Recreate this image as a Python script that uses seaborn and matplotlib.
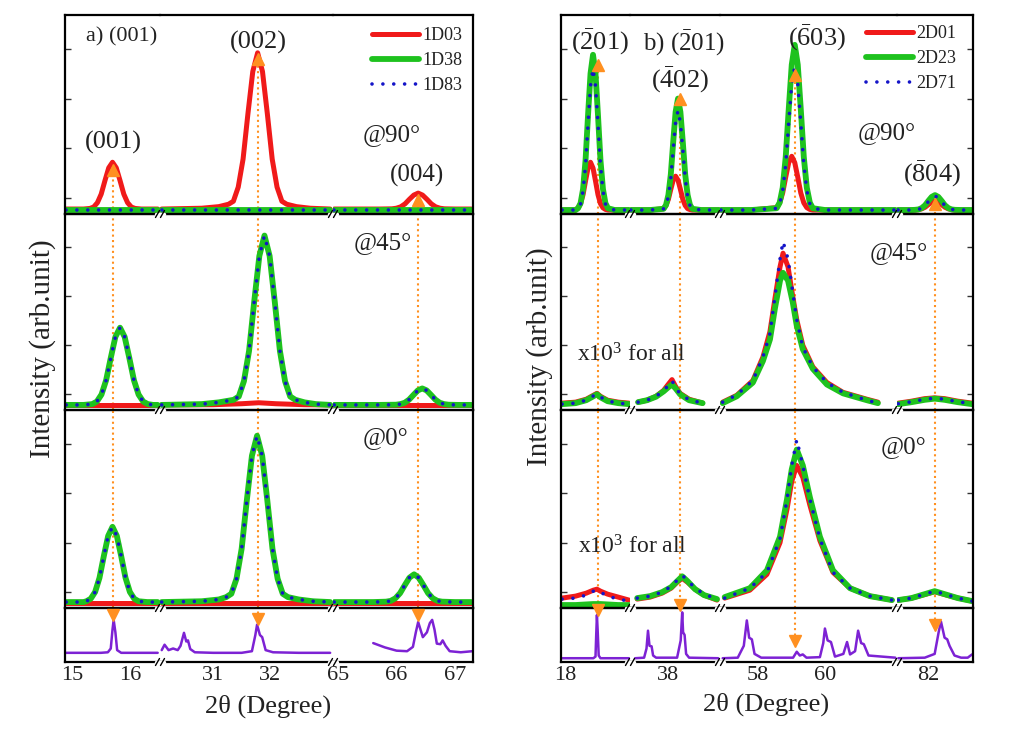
import matplotlib
matplotlib.use("Agg")
import matplotlib.pyplot as plt
from matplotlib.lines import Line2D
import seaborn as sns

# ---------------- data ----------------
# intensities are in units of the row height (0 = row bottom, 1 = row top)

# panel a) : 1D samples, three broken 2theta windows
A_XLIM = [(14.88, 16.52), (30.07, 33.10), (64.91, 67.31)]
A_TICKS = [[15, 16], [31, 32], [65, 66, 67]]
A_ENDS = [(14.90, 16.48), (30.10, 33.05), (64.93, 67.28)]
A_PEAKS = [15.70, 31.78, 66.37]
A_TOP_TRI = [0.22, 0.78, 0.07]
A_REF_TRI = [0.87, 0.80, 0.87]

# @90
A90_X1 = [14.90, 15.20, 15.31, 15.375, 15.44, 15.505, 15.57, 15.635, 15.70, 15.765, 15.83, 15.895, 15.96, 16.025, 16.09, 16.20, 16.48]
A90_RED1 = [0.025, 0.025, 0.028, 0.035, 0.057, 0.100, 0.168, 0.232, 0.260, 0.232, 0.168, 0.100, 0.057, 0.035, 0.028, 0.025, 0.025]
A90_X2 = [30.10, 30.80, 31.10, 31.27, 31.355, 31.44, 31.525, 31.61, 31.695, 31.78, 31.865, 31.95, 32.035, 32.12, 32.205, 32.29, 32.46, 32.70, 33.05]
A90_RED2 = [0.025, 0.029, 0.037, 0.049, 0.064, 0.135, 0.276, 0.504, 0.716, 0.810, 0.716, 0.504, 0.276, 0.135, 0.064, 0.049, 0.037, 0.029, 0.025]
A90_X3 = [64.93, 65.70, 65.92, 65.995, 66.07, 66.145, 66.22, 66.295, 66.37, 66.445, 66.52, 66.595, 66.67, 66.745, 66.82, 67.00, 67.28]
A90_RED3 = [0.025, 0.025, 0.026, 0.029, 0.036, 0.051, 0.074, 0.095, 0.105, 0.095, 0.074, 0.051, 0.036, 0.029, 0.026, 0.025, 0.025]
A90_FLAT = 0.02

# @45
A45_X1 = [14.90, 15.20, 15.35, 15.43, 15.51, 15.59, 15.67, 15.75, 15.83, 15.91, 15.99, 16.07, 16.15, 16.23, 16.31, 16.40, 16.48]
A45_GB1 = [0.026, 0.026, 0.030, 0.043, 0.079, 0.152, 0.266, 0.373, 0.420, 0.373, 0.266, 0.152, 0.079, 0.043, 0.030, 0.026, 0.026]
A45_X2 = [30.10, 30.80, 31.10, 31.36, 31.45, 31.54, 31.63, 31.72, 31.81, 31.90, 31.99, 32.08, 32.17, 32.26, 32.35, 32.44, 32.60, 32.80, 33.05]
A45_GB2 = [0.026, 0.030, 0.039, 0.052, 0.069, 0.147, 0.302, 0.553, 0.786, 0.890, 0.786, 0.553, 0.302, 0.147, 0.069, 0.052, 0.039, 0.030, 0.026]
A45_X3 = [64.93, 65.70, 65.99, 66.065, 66.14, 66.215, 66.29, 66.365, 66.44, 66.515, 66.59, 66.665, 66.74, 66.815, 66.89, 67.05, 67.28]
A45_GB3 = [0.026, 0.026, 0.027, 0.030, 0.037, 0.053, 0.077, 0.100, 0.110, 0.100, 0.077, 0.053, 0.037, 0.030, 0.027, 0.026, 0.026]
A45_RED_X2 = [30.10, 31.00, 31.50, 31.80, 32.10, 32.60, 33.05]
A45_RED2 = [0.026, 0.027, 0.032, 0.037, 0.032, 0.027, 0.026]
A45_RED_FLAT = 0.026

# @0
A0_X1 = [14.90, 15.20, 15.25, 15.325, 15.40, 15.475, 15.55, 15.625, 15.70, 15.775, 15.85, 15.925, 16.00, 16.075, 16.15, 16.30, 16.48]
A0_GB1 = [0.030, 0.030, 0.034, 0.047, 0.081, 0.152, 0.262, 0.364, 0.410, 0.364, 0.262, 0.152, 0.081, 0.047, 0.034, 0.030, 0.030]
A0_X2 = [30.10, 30.80, 31.10, 31.23, 31.32, 31.41, 31.50, 31.59, 31.68, 31.77, 31.86, 31.95, 32.04, 32.13, 32.22, 32.31, 32.50, 32.75, 33.05]
A0_GB2 = [0.030, 0.034, 0.043, 0.055, 0.072, 0.148, 0.299, 0.542, 0.769, 0.870, 0.769, 0.542, 0.299, 0.148, 0.072, 0.055, 0.043, 0.034, 0.030]
A0_X3 = [64.93, 65.60, 65.82, 65.90, 65.98, 66.06, 66.14, 66.22, 66.30, 66.38, 66.46, 66.54, 66.62, 66.70, 66.78, 67.00, 67.28]
A0_GB3 = [0.030, 0.030, 0.032, 0.036, 0.049, 0.075, 0.115, 0.153, 0.170, 0.153, 0.115, 0.075, 0.049, 0.036, 0.032, 0.030, 0.030]
A0_RED_FLAT = 0.027

# reference pattern (purple)
AREF_X1 = [14.90, 15.50, 15.62, 15.67, 15.70, 15.72, 15.75, 15.78, 15.85, 16.48]
AREF_Y1 = [0.17, 0.17, 0.18, 0.25, 0.60, 0.78, 0.55, 0.22, 0.17, 0.17]
AREF_X2 = [30.10, 30.15, 30.22, 30.30, 30.38, 30.43, 30.49, 30.53, 30.56, 30.60, 30.68, 31.00, 31.50, 31.68, 31.74, 31.77, 31.82, 31.86, 31.92, 32.05, 32.50, 33.05]
AREF_Y2 = [0.22, 0.32, 0.22, 0.25, 0.22, 0.30, 0.54, 0.38, 0.40, 0.24, 0.18, 0.17, 0.17, 0.20, 0.50, 0.69, 0.50, 0.46, 0.22, 0.18, 0.17, 0.17]
AREF_X3 = [65.60, 65.80, 66.00, 66.18, 66.28, 66.33, 66.37, 66.41, 66.45, 66.52, 66.57, 66.61, 66.65, 66.69, 66.75, 66.79, 66.84, 66.91, 67.10, 67.30]
AREF_Y3 = [0.35, 0.27, 0.21, 0.20, 0.28, 0.55, 0.74, 0.60, 0.46, 0.55, 0.72, 0.78, 0.60, 0.34, 0.33, 0.40, 0.30, 0.20, 0.18, 0.20]

# panel b) : 2D samples, four broken 2theta windows
B_XLIM = [(17.89, 19.83), (36.73, 39.73), (56.87, 62.15), (81.06, 83.36)]
B_TICKS = [[18], [38], [58, 60], [82]]
B_PEAKS = [18.93, 38.40, 59.10, 82.21]
B_TOP_TRI = [0.75, 0.58, 0.70, 0.05]
B_REF_TRI = [0.96, 1.05, 0.38, 0.69]

# @90
B90_X1 = [17.92, 18.30, 18.37, 18.44, 18.51, 18.58, 18.65, 18.72, 18.79, 18.86, 18.93, 19.00, 19.07, 19.14, 19.21, 19.40, 19.80]
B90_RED1 = [0.020, 0.020, 0.031, 0.052, 0.097, 0.166, 0.231, 0.260, 0.231, 0.166, 0.097, 0.052, 0.031, 0.023, 0.020, 0.020, 0.020]
B90_GRN1 = [0.020, 0.020, 0.029, 0.054, 0.125, 0.270, 0.496, 0.706, 0.800, 0.706, 0.496, 0.270, 0.125, 0.054, 0.029, 0.020, 0.020]
B90_BLU1 = [0.020, 0.020, 0.028, 0.051, 0.116, 0.247, 0.453, 0.645, 0.730, 0.645, 0.453, 0.247, 0.116, 0.051, 0.028, 0.020, 0.020]
B90_X2 = [36.76, 37.40, 37.85, 37.93, 38.01, 38.09, 38.17, 38.25, 38.33, 38.41, 38.49, 38.57, 38.65, 38.73, 38.81, 39.10, 39.70]
B90_RED2 = [0.020, 0.020, 0.027, 0.043, 0.074, 0.124, 0.170, 0.190, 0.170, 0.124, 0.074, 0.043, 0.027, 0.022, 0.020, 0.020, 0.020]
B90_GRN2 = [0.020, 0.020, 0.026, 0.045, 0.096, 0.199, 0.362, 0.513, 0.580, 0.513, 0.362, 0.199, 0.096, 0.045, 0.026, 0.020, 0.020]
B90_BLU2 = [0.020, 0.020, 0.026, 0.042, 0.088, 0.180, 0.325, 0.460, 0.520, 0.460, 0.325, 0.180, 0.088, 0.042, 0.026, 0.020, 0.020]
B90_X3 = [56.90, 57.80, 58.56, 58.65, 58.74, 58.83, 58.92, 59.01, 59.10, 59.19, 59.28, 59.37, 59.46, 59.55, 59.64, 60.00, 61.00, 62.10]
B90_RED3 = [0.020, 0.020, 0.032, 0.056, 0.106, 0.185, 0.258, 0.290, 0.258, 0.185, 0.106, 0.056, 0.032, 0.023, 0.020, 0.020, 0.020, 0.020]
B90_GRN3 = [0.020, 0.020, 0.029, 0.057, 0.132, 0.286, 0.526, 0.750, 0.850, 0.750, 0.526, 0.286, 0.132, 0.057, 0.029, 0.020, 0.020, 0.020]
B90_BLU3 = [0.020, 0.020, 0.028, 0.052, 0.117, 0.250, 0.459, 0.654, 0.740, 0.654, 0.459, 0.250, 0.117, 0.052, 0.028, 0.020, 0.020, 0.020]
B90_X4 = [81.09, 81.50, 81.61, 81.71, 81.81, 81.91, 82.01, 82.11, 82.21, 82.31, 82.41, 82.51, 82.61, 82.71, 82.81, 83.00, 83.33]
B90_RED4 = [0.020, 0.020, 0.020, 0.022, 0.026, 0.034, 0.047, 0.060, 0.065, 0.060, 0.047, 0.034, 0.026, 0.022, 0.020, 0.020, 0.020]
B90_GRN4 = [0.020, 0.020, 0.021, 0.023, 0.030, 0.044, 0.066, 0.086, 0.095, 0.086, 0.066, 0.044, 0.030, 0.023, 0.021, 0.020, 0.020]
B90_BLU4 = [0.020, 0.020, 0.021, 0.023, 0.029, 0.042, 0.063, 0.082, 0.090, 0.082, 0.063, 0.042, 0.029, 0.023, 0.021, 0.020, 0.020]

# @45 (x10^3)
B45_X1 = [17.92, 18.30, 18.60, 18.80, 18.90, 19.00, 19.20, 19.50, 19.80]
B45_RED1 = [0.035, 0.040, 0.055, 0.075, 0.085, 0.070, 0.050, 0.040, 0.035]
B45_GRN1 = [0.030, 0.035, 0.050, 0.070, 0.080, 0.065, 0.045, 0.035, 0.030]
B45_BLU1 = [0.030, 0.035, 0.050, 0.072, 0.082, 0.066, 0.046, 0.035, 0.030]
B45_X2 = [37.00, 37.30, 37.60, 37.85, 38.00, 38.13, 38.25, 38.40, 38.70, 39.15]
B45_RED2 = [0.040, 0.050, 0.070, 0.100, 0.130, 0.155, 0.120, 0.085, 0.055, 0.035]
B45_GRN2 = [0.040, 0.050, 0.068, 0.095, 0.115, 0.130, 0.110, 0.080, 0.050, 0.035]
B45_BLU2 = [0.040, 0.050, 0.070, 0.098, 0.125, 0.150, 0.115, 0.082, 0.052, 0.035]
B45_X3 = [56.95, 57.37, 57.85, 58.15, 58.36, 58.51, 58.66, 58.75, 58.90, 59.04, 59.16, 59.34, 59.64, 60.06, 60.54, 61.25, 61.58]
B45_RED3 = [0.040, 0.075, 0.150, 0.270, 0.400, 0.570, 0.730, 0.800, 0.730, 0.580, 0.460, 0.330, 0.220, 0.140, 0.090, 0.055, 0.040]
B45_GRN3 = [0.035, 0.070, 0.140, 0.250, 0.360, 0.520, 0.660, 0.700, 0.660, 0.550, 0.430, 0.310, 0.210, 0.130, 0.085, 0.050, 0.035]
B45_BLU3 = [0.040, 0.077, 0.150, 0.270, 0.390, 0.580, 0.770, 0.860, 0.770, 0.600, 0.460, 0.320, 0.220, 0.140, 0.090, 0.050, 0.035]
B45_X4 = [81.10, 81.50, 81.90, 82.20, 82.50, 82.90, 83.33]
B45_RED4 = [0.035, 0.045, 0.058, 0.062, 0.058, 0.045, 0.035]
B45_GRN4 = [0.030, 0.040, 0.052, 0.058, 0.052, 0.040, 0.030]
B45_BLU4 = [0.032, 0.042, 0.055, 0.060, 0.055, 0.042, 0.032]

# @0 (x10^3)
B0_X1 = [17.92, 18.30, 18.60, 18.80, 18.90, 19.00, 19.20, 19.50, 19.80]
B0_RED1 = [0.050, 0.060, 0.075, 0.090, 0.095, 0.085, 0.070, 0.055, 0.040]
B0_GRN1 = [0.015, 0.015, 0.018, 0.020, 0.020, 0.020, 0.018, 0.015, 0.015]
B0_BLU1 = [0.045, 0.050, 0.065, 0.085, 0.090, 0.080, 0.060, 0.045, 0.035]
B0_X2 = [36.97, 37.40, 37.80, 38.10, 38.30, 38.47, 38.65, 38.90, 39.20, 39.63]
B0_RED2 = [0.045, 0.055, 0.075, 0.100, 0.130, 0.150, 0.130, 0.095, 0.065, 0.040]
B0_GRN2 = [0.050, 0.060, 0.080, 0.105, 0.135, 0.160, 0.135, 0.095, 0.065, 0.045]
B0_BLU2 = [0.050, 0.060, 0.080, 0.110, 0.140, 0.165, 0.140, 0.100, 0.070, 0.045]
B0_X3 = [57.01, 57.76, 58.27, 58.66, 58.87, 59.01, 59.16, 59.34, 59.55, 59.85, 60.24, 60.75, 61.34, 62.00]
B0_RED3 = [0.050, 0.090, 0.170, 0.330, 0.500, 0.640, 0.720, 0.660, 0.520, 0.340, 0.180, 0.100, 0.060, 0.040]
B0_GRN3 = [0.055, 0.100, 0.190, 0.360, 0.550, 0.700, 0.800, 0.720, 0.560, 0.360, 0.190, 0.100, 0.060, 0.040]
B0_BLU3 = [0.050, 0.100, 0.180, 0.350, 0.550, 0.720, 0.850, 0.720, 0.550, 0.350, 0.180, 0.100, 0.060, 0.040]
B0_X4 = [81.10, 81.50, 81.90, 82.20, 82.50, 82.90, 83.33]
B0_RED4 = [0.040, 0.050, 0.068, 0.082, 0.068, 0.050, 0.035]
B0_GRN4 = [0.040, 0.050, 0.070, 0.085, 0.070, 0.050, 0.035]
B0_BLU4 = [0.040, 0.050, 0.070, 0.085, 0.070, 0.050, 0.035]

# reference pattern (purple)
BREF_X1 = [17.90, 18.80, 18.86, 18.88, 18.90, 18.92, 18.95, 19.00, 19.80]
BREF_Y1 = [0.07, 0.07, 0.10, 0.50, 0.87, 0.60, 0.12, 0.07, 0.07]
BREF_X2 = [36.90, 37.20, 37.28, 37.33, 37.38, 37.45, 37.50, 37.60, 38.30, 38.42, 38.47, 38.50, 38.55, 38.60, 38.70, 39.67]
BREF_Y2 = [0.07, 0.08, 0.25, 0.58, 0.30, 0.29, 0.12, 0.08, 0.08, 0.40, 0.92, 0.55, 0.50, 0.15, 0.08, 0.07]
BREF_X3 = [56.95, 57.40, 57.58, 57.67, 57.74, 57.82, 57.90, 58.10, 59.05, 59.16, 59.25, 59.34, 59.45, 59.85, 59.95, 60.00, 60.08, 60.18, 60.30, 60.55, 60.66, 60.75, 60.90, 60.99, 61.08, 61.16, 61.30, 62.10]
BREF_Y3 = [0.07, 0.08, 0.30, 0.77, 0.45, 0.42, 0.15, 0.08, 0.08, 0.19, 0.12, 0.14, 0.08, 0.09, 0.35, 0.62, 0.40, 0.37, 0.10, 0.15, 0.37, 0.14, 0.20, 0.58, 0.35, 0.33, 0.12, 0.08]
BREF_X4 = [81.10, 81.90, 82.20, 82.32, 82.39, 82.50, 82.58, 82.65, 82.80, 83.00, 83.20, 83.33]
BREF_Y4 = [0.07, 0.08, 0.15, 0.55, 0.75, 0.45, 0.42, 0.30, 0.12, 0.08, 0.08, 0.14]

A_LABELS = ["1D03", "1D38", "1D83"]
B_LABELS = ["2D01", "2D23", "2D71"]

# ---------------- styling ----------------
W, H = 1031, 729
ROWS_Y = [15, 214, 410, 608, 662]
A_BOUNDS = [65, 160, 333, 473]
B_BOUNDS = [561, 630, 720, 897, 973]

RED = "#f01a1a"
GREEN = "#1ec21e"
BLUE = "#1414c8"
ORANGE = "#ff9020"
PURPLE = "#7d22d4"

STYLE = {
    "red": dict(color=RED, linewidth=3.6, zorder=2),
    "green": dict(color=GREEN, linewidth=4.2, zorder=2.1),
    "blue": dict(color=BLUE, linewidth=2.6, linestyle=(0, (0.01, 3.0)),
                 dash_capstyle="round", zorder=2.2),
    "purple": dict(color=PURPLE, linewidth=1.8, zorder=2),
}
VLINE = dict(color=ORANGE, linewidth=1.5, linestyle=(0, (1, 1.6)), zorder=1.5)

sns.set_theme(style="white")
plt.rcParams["font.family"] = ["Liberation Serif", "DejaVu Serif"]
plt.rcParams["mathtext.fontset"] = "custom"
plt.rcParams["mathtext.rm"] = "Liberation Serif"
plt.rcParams["mathtext.it"] = "Liberation Serif:italic"
plt.rcParams["mathtext.bf"] = "Liberation Serif:bold"


def flat(ends, level):
    return ([ends[0], ends[1]], [level, level])


A_ROWS = [
    [
        {"red": (A90_X1, A90_RED1), "green": flat(A_ENDS[0], A90_FLAT), "blue": flat(A_ENDS[0], A90_FLAT)},
        {"red": (A90_X2, A90_RED2), "green": flat(A_ENDS[1], A90_FLAT), "blue": flat(A_ENDS[1], A90_FLAT)},
        {"red": (A90_X3, A90_RED3), "green": flat(A_ENDS[2], A90_FLAT), "blue": flat(A_ENDS[2], A90_FLAT)},
    ],
    [
        {"red": flat(A_ENDS[0], A45_RED_FLAT), "green": (A45_X1, A45_GB1), "blue": (A45_X1, A45_GB1)},
        {"red": (A45_RED_X2, A45_RED2), "green": (A45_X2, A45_GB2), "blue": (A45_X2, A45_GB2)},
        {"red": flat(A_ENDS[2], A45_RED_FLAT), "green": (A45_X3, A45_GB3), "blue": (A45_X3, A45_GB3)},
    ],
    [
        {"red": flat(A_ENDS[0], A0_RED_FLAT), "green": (A0_X1, A0_GB1), "blue": (A0_X1, A0_GB1)},
        {"red": flat(A_ENDS[1], A0_RED_FLAT), "green": (A0_X2, A0_GB2), "blue": (A0_X2, A0_GB2)},
        {"red": flat(A_ENDS[2], A0_RED_FLAT), "green": (A0_X3, A0_GB3), "blue": (A0_X3, A0_GB3)},
    ],
]
A_STRIP = [(AREF_X1, AREF_Y1), (AREF_X2, AREF_Y2), (AREF_X3, AREF_Y3)]

B_ROWS = [
    [
        {"red": (B90_X1, B90_RED1), "green": (B90_X1, B90_GRN1), "blue": (B90_X1, B90_BLU1)},
        {"red": (B90_X2, B90_RED2), "green": (B90_X2, B90_GRN2), "blue": (B90_X2, B90_BLU2)},
        {"red": (B90_X3, B90_RED3), "green": (B90_X3, B90_GRN3), "blue": (B90_X3, B90_BLU3)},
        {"red": (B90_X4, B90_RED4), "green": (B90_X4, B90_GRN4), "blue": (B90_X4, B90_BLU4)},
    ],
    [
        {"red": (B45_X1, B45_RED1), "green": (B45_X1, B45_GRN1), "blue": (B45_X1, B45_BLU1)},
        {"red": (B45_X2, B45_RED2), "green": (B45_X2, B45_GRN2), "blue": (B45_X2, B45_BLU2)},
        {"red": (B45_X3, B45_RED3), "green": (B45_X3, B45_GRN3), "blue": (B45_X3, B45_BLU3)},
        {"red": (B45_X4, B45_RED4), "green": (B45_X4, B45_GRN4), "blue": (B45_X4, B45_BLU4)},
    ],
    [
        {"red": (B0_X1, B0_RED1), "green": (B0_X1, B0_GRN1), "blue": (B0_X1, B0_BLU1)},
        {"red": (B0_X2, B0_RED2), "green": (B0_X2, B0_GRN2), "blue": (B0_X2, B0_BLU2)},
        {"red": (B0_X3, B0_RED3), "green": (B0_X3, B0_GRN3), "blue": (B0_X3, B0_BLU3)},
        {"red": (B0_X4, B0_RED4), "green": (B0_X4, B0_GRN4), "blue": (B0_X4, B0_BLU4)},
    ],
]
B_STRIP = [(BREF_X1, BREF_Y1), (BREF_X2, BREF_Y2), (BREF_X3, BREF_Y3), (BREF_X4, BREF_Y4)]

fig = plt.figure(figsize=(W / 100, H / 100), dpi=100)
fig.patch.set_facecolor("white")


def px_axes(x0, x1, y0, y1):
    return fig.add_axes([x0 / W, 1 - y1 / H, (x1 - x0) / W, (y1 - y0) / H])


def ftext(px, py, s, size, ha="center"):
    fig.text(px / W, 1 - py / H, s, fontsize=size, ha=ha, va="center", color="#222222")


def build_panel(bounds, xlims, ticks, rows, strip, peaks, top_tri, ref_tri, right_ticks):
    nseg = len(xlims)
    for r in range(4):
        for s in range(nseg):
            ax = px_axes(bounds[s], bounds[s + 1], ROWS_Y[r], ROWS_Y[r + 1])
            ax.patch.set_alpha(0)
            pk = peaks[s]

            # orange guide lines linking the peaks to the reference pattern
            if r == 0:
                ax.axvline(pk, 0, top_tri[s], **VLINE)
            elif r < 3:
                ax.axvline(pk, 0, 1, **VLINE)
            else:
                ax.axvline(pk, min(ref_tri[s], 1.0), 1, **VLINE)

            if r < 3:
                for key in ("red", "green", "blue"):
                    x, y = rows[r][s][key]
                    sns.lineplot(x=x, y=y, ax=ax, legend=False, **STYLE[key])
            else:
                sns.lineplot(x=strip[s][0], y=strip[s][1], ax=ax, legend=False, **STYLE["purple"])

            if r == 0:
                ax.plot([pk], [top_tri[s]], marker="^", color=ORANGE, ms=8,
                        mec=ORANGE, zorder=5, clip_on=False)
            if r == 3:
                ax.plot([pk], [ref_tri[s]], marker="v", color=ORANGE, ms=8,
                        mec=ORANGE, zorder=5, clip_on=False)

            ax.set_xlim(*xlims[s])
            ax.set_ylim(0, 1)
            ax.set_xlabel("")
            ax.set_ylabel("")

            for side in ("top", "bottom", "left", "right"):
                ax.spines[side].set_color("black")
                ax.spines[side].set_linewidth(1.6)
            ax.spines["left"].set_visible(s == 0)
            ax.spines["right"].set_visible(s == nseg - 1)

            if r < 3:
                ax.set_yticks([0.08, 0.33, 0.58, 0.83])
                ax.set_yticklabels([])
                ax.tick_params(axis="y", direction="in", length=4, width=1,
                               left=(s == 0), right=(right_ticks and s == nseg - 1),
                               color="#333333")
            else:
                ax.set_yticks([])

            if r == 3:
                ax.set_xticks(ticks[s])
                ax.set_xticklabels([str(t) for t in ticks[s]])
                ax.tick_params(axis="x", length=0, labelsize=16, pad=3, labelcolor="#222222")
            else:
                ax.set_xticks([])

    # break marks on the horizontal frame lines
    for bx in bounds[1:-1]:
        for by in ROWS_Y[1:]:
            fig.add_artist(Line2D([(bx - 4) / W, (bx + 4) / W], [1 - by / H, 1 - by / H],
                                  color="white", linewidth=2.5, zorder=10))
            for dx in (-2.5, 2.5):
                fig.add_artist(Line2D([(bx + dx - 2) / W, (bx + dx + 2) / W],
                                      [1 - (by + 3.5) / H, 1 - (by - 3.5) / H],
                                      color="black", linewidth=1.0, zorder=11))


build_panel(A_BOUNDS, A_XLIM, A_TICKS, A_ROWS, A_STRIP, A_PEAKS, A_TOP_TRI, A_REF_TRI, False)
build_panel(B_BOUNDS, B_XLIM, B_TICKS, B_ROWS, B_STRIP, B_PEAKS, B_TOP_TRI, B_REF_TRI, True)


def legend_handles():
    return [
        Line2D([], [], **{k: v for k, v in STYLE["red"].items() if k != "zorder"}),
        Line2D([], [], **{k: v for k, v in STYLE["green"].items() if k != "zorder"}),
        Line2D([], [], **{k: v for k, v in STYLE["blue"].items() if k != "zorder"}),
    ]


for labels, px, py in ((A_LABELS, 372, 27), (B_LABELS, 866, 25)):
    leg = fig.legend(legend_handles(), labels, loc="upper left",
                     bbox_to_anchor=(px / W, 1 - py / H), frameon=False,
                     fontsize=13, handlelength=2.6, handletextpad=0.2,
                     labelspacing=0.45, borderpad=0, borderaxespad=0)
    for t in leg.get_texts():
        t.set_color("#222222")

# panel a) annotations
ftext(86, 37, "a) (001)", 16, ha="left")
ftext(113, 142, "(001)", 19)
ftext(258, 42, "(002)", 19)
ftext(417, 175, "(004)", 18)
ftext(392, 135, "@90°", 18)
ftext(383, 243, "@45°", 18)
ftext(385, 438, "@0°", 18)

# panel b) annotations
ftext(600, 42, r"($\bar{2}$01)", 19)
ftext(643, 42, r"b) ($\bar{2}$01)", 18, ha="left")
ftext(680, 80, r"($\bar{4}$02)", 19)
ftext(817, 38, r"($\bar{6}$03)", 19)
ftext(887, 133, "@90°", 18)
ftext(932, 174, r"($\bar{8}$04)", 19)
ftext(631, 355, r"x10$^3$ for all", 17)
ftext(899, 253, "@45°", 18)
ftext(632, 547, r"x10$^3$ for all", 17)
ftext(904, 447, "@0°", 18)

# axis titles
fig.text(43 / W, 1 - 349 / H, "Intensity (arb.unit)", rotation=90, fontsize=21,
         ha="center", va="center", color="#222222")
fig.text(540 / W, 1 - 357 / H, "Intensity (arb.unit)", rotation=90, fontsize=21,
         ha="center", va="center", color="#222222")
fig.text(268 / W, 1 - 706 / H, "2θ (Degree)", fontsize=19, ha="center", va="center",
         color="#222222")
fig.text(766 / W, 1 - 704 / H, "2θ (Degree)", fontsize=19, ha="center", va="center",
         color="#222222")

fig.savefig("out.png", dpi=100, facecolor="white")
